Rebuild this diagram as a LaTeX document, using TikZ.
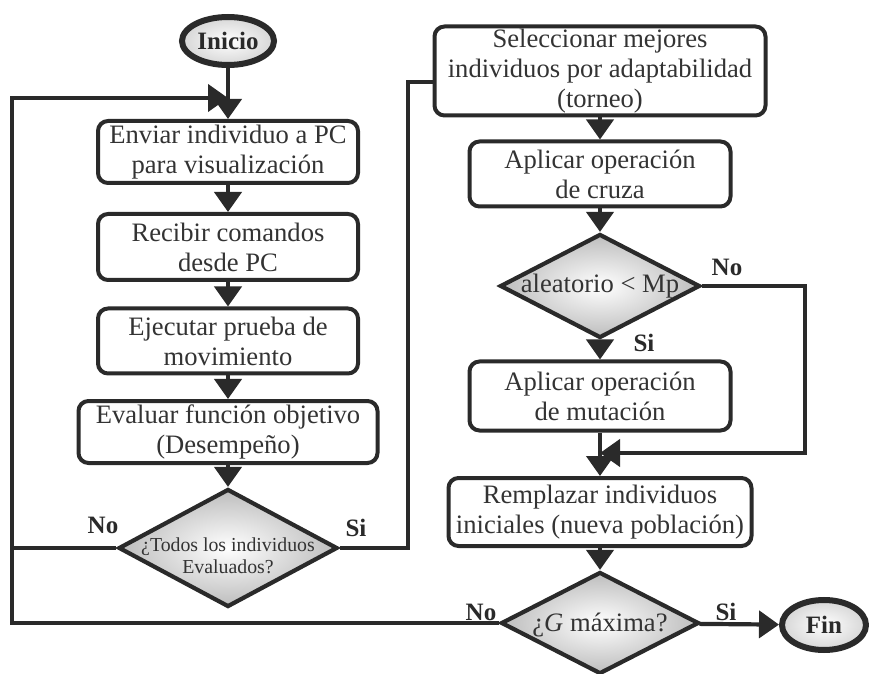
\documentclass[tikz,border=0pt]{standalone}
\usepackage{fontspec}
\setmainfont{Liberation Serif}
\usetikzlibrary{arrows.meta,shapes.geometric}
\definecolor{linec}{HTML}{2A2A2A}
\definecolor{txtc}{HTML}{333333}
\newcommand\fcbody{\fontsize{13.3}{15}\selectfont}
\newcommand\fcsmall{\fontsize{9.9}{11}\selectfont}
\newcommand\fclabel{\fontsize{12.5}{14}\selectfont\bfseries}
\begin{document}
\begin{tikzpicture}[x=0.5pt,y=-0.5pt,
  procbox/.style={draw=linec, line width=2pt, rounded corners=5pt, fill=white,
    align=center, font=\fcbody, text=txtc, inner sep=0pt},
  decision/.style={diamond, draw=linec, line width=2.1pt, inner sep=0pt,
    shade, inner color=white, outer color=black!26},
  terminal/.style={ellipse, draw=linec, line width=3pt, inner sep=0pt,
    shade, inner color=white, outer color=black!16,
    font=\fontsize{12.5}{14}\selectfont\bfseries, text=linec},
  dtext/.style={align=center, text=txtc, inner sep=0pt},
  flow/.style={draw=linec, line width=2.1pt, -{Triangle[width=13.5pt,length=10pt]}},
  plain/.style={draw=linec, line width=2.1pt},
  lbl/.style={font=\fclabel, text=linec, inner sep=0pt}]

\useasboundingbox (0,0) rectangle (869,674);

% left column
\node[terminal, minimum width=46pt, minimum height=24pt] (ini) at (228,41) {Inicio};
\node[procbox, minimum width=130pt, minimum height=31pt] (b1) at (228,152)
  {Enviar individuo a PC\\para visualización};
\node[procbox, minimum width=130pt, minimum height=33pt] (b2) at (228,247)
  {Recibir comandos\\desde PC};
\node[procbox, minimum width=130pt, minimum height=32.5pt] (b3) at (228,341)
  {Ejecutar prueba de\\movimiento};
\node[procbox, minimum width=149.5pt, minimum height=31pt] (b4) at (228,432)
  {Evaluar función objetivo\\(Desempeño)};
\node[decision, minimum width=109.5pt, minimum height=59pt] (d1) at (228,548) {};
\node[dtext, font=\fcsmall] (d1t) at (228,556) {¿Todos los individuos\\Evaluados?};

% right column
\node[procbox, minimum width=165.5pt, minimum height=44.5pt] (s1) at (600,71)
  {Seleccionar mejores\\individuos por adaptabilidad\\(torneo)};
\node[procbox, minimum width=130.5pt, minimum height=32.5pt] (s2) at (600,174)
  {Aplicar operación\\de cruza};
\node[decision, minimum width=100pt, minimum height=52pt] (d2) at (600,286) {};
\node[dtext, font=\fcbody] (d2t) at (600,286) {aleatorio < Mp};
\node[procbox, minimum width=130.5pt, minimum height=34.5pt] (s3) at (600,396)
  {Aplicar operación\\de mutación};
\node[procbox, minimum width=151.5pt, minimum height=34pt] (s4) at (600,512)
  {Remplazar individuos\\iniciales (nueva población)};
\node[decision, minimum width=99pt, minimum height=51pt] (d3) at (600,623) {};
\node[dtext, font=\fcbody] (d3t) at (600,625) {¿\textit{G} máxima?};
\node[terminal, minimum width=42pt, minimum height=25pt] (fin) at (824,625) {Fin};

% branch labels
\node[lbl] (no1) at (103,525) {No};
\node[lbl] (si1) at (356,528) {Si};
\node[lbl] (no2) at (727,267) {No};
\node[lbl] (si2) at (644,343) {Si};
\node[lbl] (no3) at (481,612) {No};
\node[lbl] (si3) at (726,612) {Si};

% loop corners
\coordinate (lt) at (12,98);
\coordinate (lb) at (12,623);
\coordinate (l1) at (12,548);
\coordinate (j1) at (228,98);
\coordinate (r1) at (408,548);
\coordinate (r2) at (408,82);
\coordinate (m1) at (805,286);
\coordinate (m2) at (805,453);
\coordinate (m3) at (600,453);

% connectors
\draw[flow] (ini) -- (b1);
\draw[flow] (b1) -- (b2);
\draw[flow] (b2) -- (b3);
\draw[flow] (b3) -- (b4);
\draw[flow] (b4) -- (d1);
\draw[flow] (d3.west) -- (lb) -- (lt) -- (j1);
\draw[plain] (d1.west) -- (l1);
\draw[plain] (d1.east) -- (r1) -- (r2) -- (r2 -| s1.west);
\draw[flow] (s1) -- (s2);
\draw[flow] (s2) -- (d2);
\draw[flow] (d2) -- (s3);
\draw[flow] (s3) -- (s4);
\draw[flow] (d2.east) -- (m1) -- (m2) -- (m3);
\draw[flow] (s4) -- (d3);
\draw[flow] (d3) -- (fin);
\end{tikzpicture}
\end{document}
